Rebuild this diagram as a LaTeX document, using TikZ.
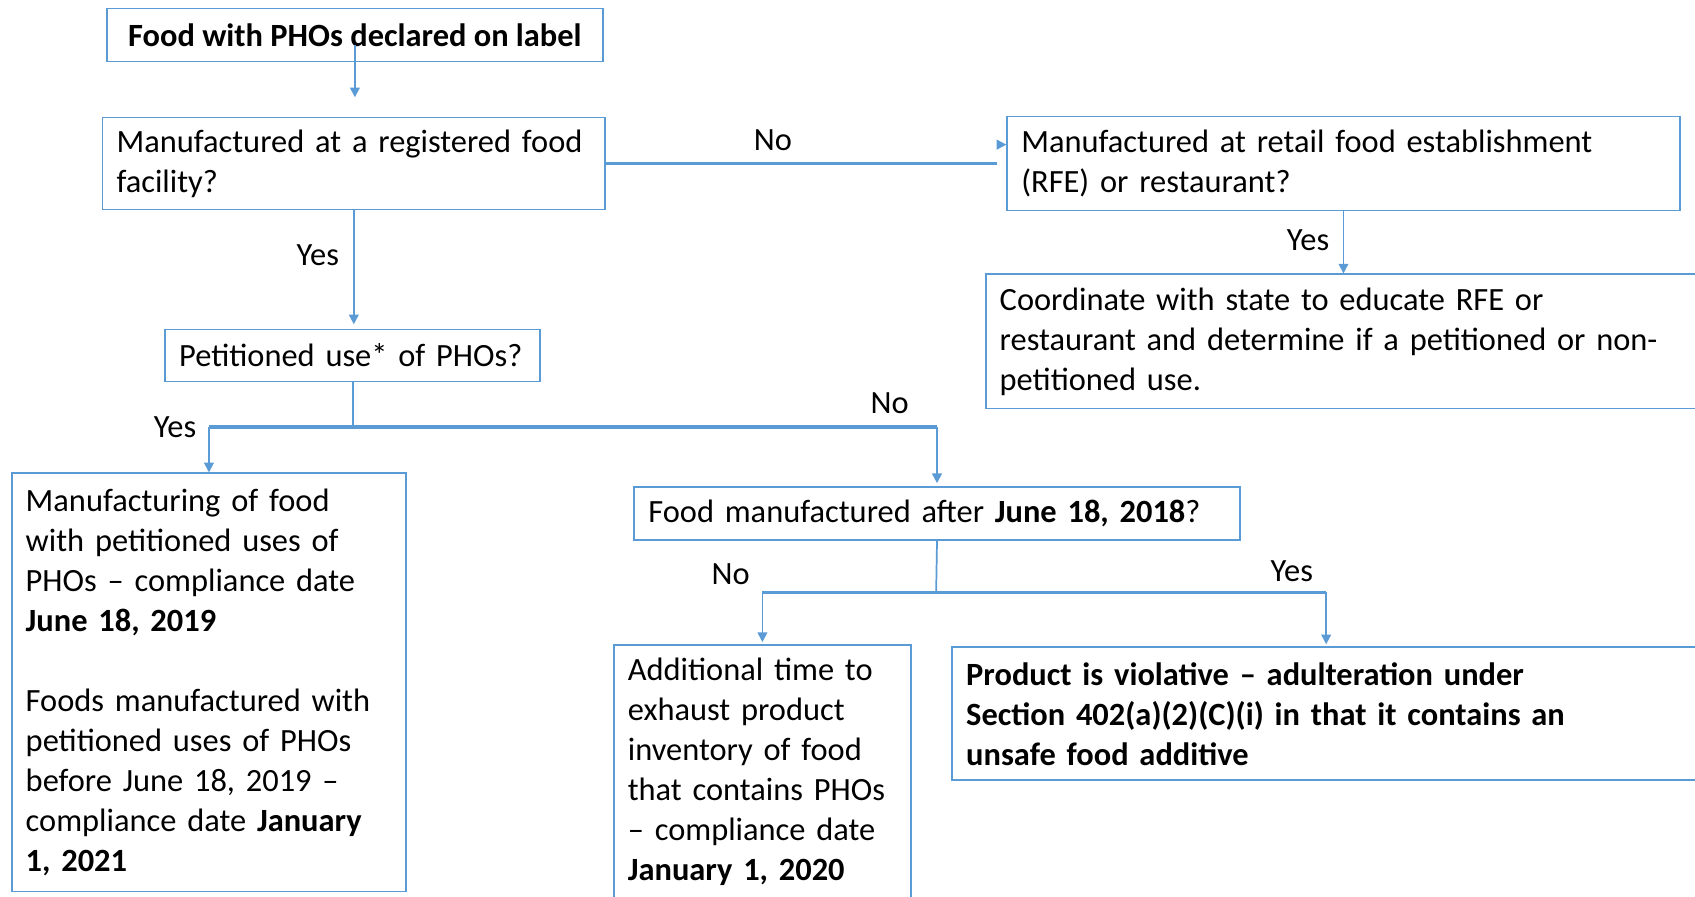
\documentclass[tikz,border=0pt]{standalone}
\usepackage{fontspec}
\setmainfont{Carlito}
\usetikzlibrary{arrows.meta,calc}
\definecolor{lineblue}{HTML}{5B9BD5}

\begin{document}
\begin{tikzpicture}[x=0.5pt,y=-0.5pt]
	\tikzstyle{box}=[rectangle, draw=lineblue, line width=0.8pt, anchor=north west, align=left, inner xsep=6.5pt, inner ysep=2pt, font=\fontsize{15}{18.5}\selectfont]
	\tikzstyle{lbl}=[inner sep=0pt, font=\fontsize{15}{18.5}\selectfont]
	\tikzstyle{link}=[draw=lineblue, line width=0.8pt]
	\tikzstyle{arrow}=[link, -{Triangle[length=4.5pt,width=4.5pt]}]
	\tikzstyle{bar}=[draw=lineblue, line width=1.6pt]
	\useasboundingbox (0,0) rectangle (1568,829);
	% boxes
	\node[box, inner xsep=2pt, minimum width=229.5pt, minimum height=24.5pt] (food) at (98,7) {\textbf{Food with PHOs declared on label}};
	\node[box, text width=219.5pt, minimum height=42.5pt] (mfg) at (94,108) {Manufactured at a registered food\\facility?};
	\node[box, text width=298pt, minimum height=43.5pt] (retail) at (931,107) {Manufactured at retail food establishment\\(RFE) or restaurant?};
	\node[box, text width=321.5pt, minimum height=62pt] (state) at (911,253) {Coordinate with state to educate RFE or\\restaurant and determine if a petitioned or non-\\petitioned use.};
	\node[box, text width=160.5pt, minimum height=24pt] (pet) at (152,304) {Petitioned use* of PHOs?};
	\node[box, text width=169.5pt, minimum height=193.5pt] (early) at (10,437) {Manufacturing of food\\with petitioned uses of\\PHOs – compliance date\\\textbf{June 18, 2019}\\[18.5pt]Foods manufactured with\\petitioned uses of PHOs\\before June 18, 2019 –\\compliance date \textbf{January}\\\textbf{1, 2021}};
	\node[box, text width=267pt, minimum height=24.5pt] (later) at (586,450) {Food manufactured after \textbf{June 18, 2018}?};
	\node[box, text width=124.5pt, minimum height=117.5pt] (stock) at (567,596) {Additional time to\\exhaust product\\inventory of food\\that contains PHOs\\– compliance date\\\textbf{January 1, 2020}};
	\node[box, text width=333pt, minimum height=61.5pt] (violative) at (880,598) {\textbf{Product is violative – adulteration under}\\\textbf{Section 402(a)(2)(C)(i) in that it contains an}\\\textbf{unsafe food additive}};
	% branch points
	\coordinate (petsplit) at (326,395);
	\coordinate (datesplit) at (866,548);
	% connectors
	\draw[arrow] ([yshift=8pt]food.south) -- ([yshift=9pt]food.south |- mfg.north);
	\draw[bar] (mfg.east) -- ($(retail.west |- mfg.east)+(-9,0)$);
	\draw[arrow] ([xshift=-4.5pt,yshift=8.75pt]retail.west) -- ([yshift=8.75pt]retail.west);
	\draw[arrow] (retail.south) -- (retail.south |- state.north);
	\draw[arrow, shorten >=2pt] (mfg.south) -- (mfg.south |- pet.north);
	\draw[link] (pet.south) -- (pet.south |- petsplit);
	\draw[bar] (early.north |- petsplit) -- (later.north |- petsplit);
	\draw[arrow] (early.north |- petsplit) -- (early.north);
	\draw[arrow] (later.north |- petsplit) -- ([yshift=1.5pt]later.north);
	\draw[link] (later.south) -- (datesplit);
	\draw[bar] (stock.north |- datesplit) -- (violative.north |- datesplit);
	\draw[arrow] (stock.north |- datesplit) -- ([yshift=1pt]stock.north);
	\draw[arrow] (violative.north |- datesplit) -- ([yshift=1pt]violative.north);
	% branch labels
	\node[lbl] (noretail) at (715,130) {No};
	\node[lbl] (yesstate) at (1210,222) {Yes};
	\node[lbl] (yespet) at (294,236) {Yes};
	\node[lbl] (yesearly) at (162,395) {Yes};
	\node[lbl] (nolater) at (823,373) {No};
	\node[lbl] (nostock) at (676,531) {No};
	\node[lbl] (yesviol) at (1195,528) {Yes};
\end{tikzpicture}
\end{document}
